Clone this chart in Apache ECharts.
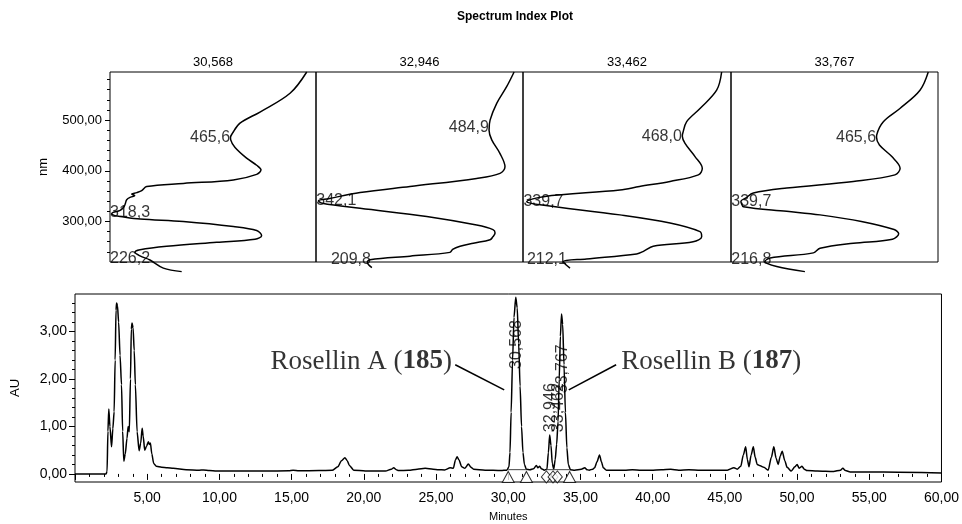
<!DOCTYPE html>
<html><head><meta charset="utf-8">
<script src="https://cdn.jsdelivr.net/npm/echarts@6/dist/echarts.min.js"></script>
<style>html,body{margin:0;padding:0;background:#fff}#c{width:962px;height:524px}</style>
</head><body><div id="c"></div>
<script>
// ---------- DATA ----------
const panelTitles = ['30,568', '32,946', '33,462', '33,767'];
// spectra: [wavelength nm, relative absorbance position (0..1 across panel)]
const spectrum1 = [[595,0.955],[553,0.874],[516,0.728],[494,0.631],[474,0.594],[466,0.585],[461,0.586],[446,0.607],[425,0.663],[411,0.712],[402,0.733],[393,0.712],[382,0.599],[375,0.356],[369,0.178],[361,0.154],[357,0.13],[354,0.105],[351,0.12],[348,0.10],[343,0.081],[336,0.075],[329,0.068],[322,0.049],[318,0.015],[315,0.008],[312,0.02],[310,0.049],[305,0.146],[300,0.356],[290,0.599],[282,0.712],[272,0.736],[265,0.704],[259,0.518],[251,0.275],[244,0.146],[239,0.121],[232,0.146],[224,0.194],[208,0.259],[201,0.348]];
const spectrum2 = [[595,0.957],[566,0.921],[533,0.873],[500,0.841],[480,0.836],[461,0.849],[434,0.889],[408,0.913],[395,0.889],[385,0.776],[369,0.454],[357,0.213],[345,0.06],[341,0.012],[336,0.03],[326,0.213],[310,0.535],[293,0.776],[284,0.855],[277,0.865],[270,0.855],[264,0.841],[257,0.76],[251,0.696],[245,0.66],[239,0.647],[231.5,0.454],[224.4,0.261],[220,0.248],[215,0.253],[209,0.27]];
const spectrum3 = [[595,0.955],[559,0.931],[523,0.851],[497,0.787],[474,0.768],[468,0.766],[454,0.779],[428,0.827],[405,0.862],[392,0.843],[379,0.707],[369,0.56],[362,0.466],[349,0.098],[339,0.018],[333,0.082],[313,0.466],[297,0.707],[280,0.851],[270,0.859],[260,0.818],[251,0.626],[241,0.579],[236,0.546],[226,0.305],[221,0.194],[215,0.205],[208,0.226]];
const spectrum4 = [[595,0.953],[559,0.913],[523,0.816],[497,0.736],[471,0.704],[466,0.703],[451,0.717],[428,0.777],[405,0.817],[392,0.792],[379,0.591],[366,0.269],[356,0.108],[346,0.07],[340,0.048],[336,0.05],[329,0.06],[320,0.269],[313,0.43],[300,0.63],[284,0.788],[276,0.81],[265,0.78],[257,0.591],[247,0.43],[238,0.398],[228,0.189],[221,0.164],[211,0.221],[201,0.357]];
const spectra = [spectrum1, spectrum2, spectrum3, spectrum4];
const lambdaMax1 = [465.6, 318.3, 226.2];
const lambdaMax2 = [484.9, 342.1, 209.8];
const lambdaMax3 = [468.0, 339.7, 212.1];
const lambdaMax4 = [465.6, 339.7, 216.8];
const lambdaMaxes = [lambdaMax1, lambdaMax2, lambdaMax3, lambdaMax4];

const chromTime = [0,2.15,2.22,2.28,2.34,2.42,2.53,2.62,2.71,2.78,2.84,2.88,2.94,3.02,3.12,3.22,3.3,3.38,3.48,3.6,3.68,3.76,3.84,3.9,3.95,4.02,4.1,4.18,4.3,4.44,4.55,4.65,4.72,4.83,4.95,5.08,5.15,5.22,5.32,5.45,5.63,6.0,6.4,6.8,7.7,8.6,8.9,9.3,9.8,13.2,14.8,15.1,15.5,16.9,17.8,18.2,18.45,18.69,18.85,19.0,19.3,20.1,21.5,21.9,22.07,22.25,22.4,23.1,23.7,24.25,24.8,25.17,25.6,25.98,26.2,26.35,26.46,26.58,26.78,27.0,27.24,27.42,27.6,28.4,29.5,29.9,30.05,30.12,30.2,30.3,30.4,30.52,30.62,30.72,30.82,30.92,31.02,31.12,31.25,31.5,31.75,31.95,32.05,32.18,32.3,32.5,32.68,32.78,32.87,32.96,33.05,33.15,33.25,33.35,33.45,33.53,33.61,33.69,33.77,33.86,33.96,34.06,34.16,34.3,34.6,35.06,35.3,35.45,35.6,35.85,35.98,36.15,36.32,36.45,36.58,36.8,38.05,38.6,39.2,39.9,40.6,41.25,41.8,42.5,43.3,45.17,45.63,45.85,46.1,46.28,46.44,46.56,46.67,46.82,46.97,47.1,47.24,47.45,47.7,48.0,48.22,48.39,48.55,48.69,48.84,48.97,49.15,49.31,49.6,49.85,50.0,50.15,50.34,50.5,50.69,51.4,52.53,53.0,53.17,53.35,53.68,55.98,60];
const chromAU = [0,0,0.05,0.9,1.37,1.0,0.57,0.95,1.31,2.4,3.45,3.60,3.55,3.2,2.5,1.88,0.9,0.27,0.42,0.75,1.0,0.89,2.0,3.05,3.18,3.08,2.6,1.88,0.89,0.49,0.65,0.96,0.8,0.5,0.58,0.68,0.62,0.65,0.42,0.22,0.16,0.14,0.13,0.12,0.09,0.08,0.085,0.07,0.06,0.06,0.065,0.08,0.065,0.07,0.075,0.15,0.28,0.34,0.28,0.18,0.08,0.06,0.06,0.1,0.13,0.09,0.07,0.075,0.1,0.12,0.1,0.09,0.085,0.13,0.12,0.3,0.36,0.3,0.15,0.12,0.21,0.14,0.1,0.08,0.07,0.08,0.15,0.45,1.3,2.4,3.3,3.72,3.5,2.75,1.85,1.0,0.45,0.2,0.1,0.09,0.11,0.18,0.13,0.16,0.11,0.08,0.1,0.45,0.82,0.6,0.22,0.1,0.3,0.62,1.1,2.0,2.9,3.37,3.15,2.3,1.3,0.55,0.2,0.09,0.08,0.1,0.13,0.09,0.08,0.1,0.13,0.26,0.4,0.26,0.13,0.08,0.08,0.09,0.08,0.08,0.09,0.1,0.08,0.09,0.08,0.08,0.13,0.1,0.16,0.4,0.57,0.3,0.15,0.4,0.57,0.35,0.2,0.17,0.14,0.08,0.35,0.57,0.33,0.2,0.38,0.48,0.28,0.14,0.06,0.15,0.2,0.12,0.16,0.1,0.07,0.06,0.05,0.08,0.12,0.07,0.04,0.04,0.02];

const peakRT = [30.568, 32.946, 33.462, 33.767];
const peakLabelAU = [2.21, 0.88, 0.88, 1.70];
const triangleT = [30.0, 31.26, 34.25];
const diamondT = [32.64, 33.1, 33.4];
const baseFromT = [30.0, 32.64];
const baseToT = [31.26, 34.25];
const baseAU = [0.09, 0.09];

const annotName = ['Rosellin A', 'Rosellin B'];
const annotNum = ['185', '187'];
const annotT = [26.14, 37.79];
const annotAU = [2.37, 2.37];
const leaderFrom = [[26.33, 2.30], [37.47, 2.30]];
const leaderTo = [[29.72, 1.77], [34.19, 1.77]];

const nmMajorTicks = [300, 400, 500];
const auMajorTicks = [0, 1, 2, 3];

// ---------- BUILD ----------
const FONT = 'Liberation Sans';
const fmt = (v, d) => Number(v).toFixed(d).replace('.', ',');
function range(a, b, s) { const r = []; for (let v = a; v <= b + 1e-9; v += s) r.push(+v.toFixed(3)); return r; }
function fAt(spec, nm) {
  for (let i = 0; i < spec.length - 1; i++) {
    const a = spec[i], b = spec[i + 1];
    if (nm <= a[0] && nm >= b[0]) { const t = (a[0] - nm) / (a[0] - b[0]); return a[1] + t * (b[1] - a[1]); }
  }
  return 0;
}

const panelLeft = [110, 316, 523, 731];
const panelWidth = [206, 207, 208, 207];
const grids = panelLeft.map((l, i) => ({ left: l, width: panelWidth[i], top: 72, height: 190, show: true, borderColor: '#000', borderWidth: 1 }));
grids.push({ left: 75, right: 17, top: 294, height: 188, show: true, borderColor: '#000', borderWidth: 1 });

const xAxes = [], yAxes = [], series = [];
const NM_MIN = 220, NM_MAX = 595, LABEL_NM_FLOOR = 224.5;
for (let i = 0; i < 4; i++) {
  xAxes.push({ gridIndex: i, type: 'value', min: 0, max: 1, position: 'top', axisLine: { show: false }, axisTick: { show: false }, axisLabel: { show: false }, splitLine: { show: false },
    name: panelTitles[i], nameLocation: 'middle', nameGap: 3, nameTextStyle: { fontFamily: FONT, fontSize: 13, color: '#000' } });
}
// panel 0 major y axis (labels)
yAxes.push({ gridIndex: 0, type: 'value', position: 'left', min: NM_MIN, max: NM_MAX, axisLine: { show: false }, splitLine: { show: false },
  axisTick: { show: true, length: 5, customValues: nmMajorTicks, lineStyle: { color: '#000' } },
  axisLabel: { customValues: nmMajorTicks, formatter: v => fmt(v, 2), fontFamily: FONT, fontSize: 13, color: '#000', margin: 8 },
  name: 'nm', nameLocation: 'middle', nameGap: 60, nameTextStyle: { fontFamily: FONT, fontSize: 13, color: '#000' } });
// panel 0 minor y axis
yAxes.push({ gridIndex: 0, type: 'value', position: 'left', offset: 0, min: NM_MIN, max: NM_MAX, axisLine: { show: false }, splitLine: { show: false }, axisLabel: { show: false },
  axisTick: { show: true, length: 3, customValues: range(240, 580, 20), lineStyle: { color: '#000' } } });
for (let i = 1; i < 4; i++) {
  yAxes.push({ gridIndex: i, type: 'value', min: NM_MIN, max: NM_MAX, axisLine: { show: false }, axisTick: { show: false }, axisLabel: { show: false }, splitLine: { show: false } });
}
const panelY = [0, 2, 3, 4];

spectra.forEach((spec, i) => {
  series.push({ type: 'line', xAxisIndex: i, yAxisIndex: panelY[i], data: spec.map(p => [p[1], p[0]]), showSymbol: false, smooth: 0.35, clip: false,
    lineStyle: { color: '#000', width: 1.5 }, silent: true });
  series.push({ type: 'scatter', xAxisIndex: i, yAxisIndex: panelY[i], symbol: 'circle', symbolSize: 1, itemStyle: { color: 'rgba(0,0,0,0)' }, silent: true, clip: false,
    data: lambdaMaxes[i].map(nm => ({ value: [Math.max(fAt(spec, nm), 0.197), Math.max(nm, LABEL_NM_FLOOR)], txt: fmt(nm, 1) })),
    label: { show: true, position: 'left', distance: 0, formatter: p => p.data.txt, fontFamily: FONT, fontSize: 16, color: '#000' } });
});

// bottom chromatogram axes
xAxes.push({ gridIndex: 4, type: 'value', min: 0, max: 60, interval: 5, position: 'bottom', axisLine: { show: false }, splitLine: { show: false },
  axisTick: { show: true, length: 6, lineStyle: { color: '#000' } },
  minorTick: { show: true, splitNumber: 5, length: 3, lineStyle: { color: '#000' } },
  axisLabel: { formatter: v => (v === 0 ? '' : fmt(v, 2)), fontFamily: FONT, fontSize: 14, color: '#000', margin: 9, showMinLabel: true, showMaxLabel: true },
  name: 'Minutes', nameLocation: 'middle', nameGap: 29, nameTextStyle: { fontFamily: FONT, fontSize: 11, color: '#000' } });
yAxes.push({ gridIndex: 4, type: 'value', position: 'left', min: -0.17, max: 3.79, axisLine: { show: false }, splitLine: { show: false },
  axisTick: { show: true, length: 6, customValues: auMajorTicks, lineStyle: { color: '#000' } },
  axisLabel: { customValues: auMajorTicks, formatter: v => fmt(v, 2), fontFamily: FONT, fontSize: 14, color: '#000', margin: 8 },
  name: 'AU', nameLocation: 'middle', nameGap: 53, nameTextStyle: { fontFamily: FONT, fontSize: 13, color: '#000' } });
yAxes.push({ gridIndex: 4, type: 'value', position: 'left', offset: 0, min: -0.17, max: 3.79, axisLine: { show: false }, splitLine: { show: false }, axisLabel: { show: false },
  axisTick: { show: true, length: 3, customValues: range(0.2, 3.6, 0.2).filter(v => Math.abs(v - Math.round(v)) > 1e-6), lineStyle: { color: '#000' } } });
const BX = 4, BY = 5;

series.push({ type: 'line', xAxisIndex: BX, yAxisIndex: BY, data: chromTime.map((t, i) => [t, chromAU[i]]), showSymbol: false, smooth: 0.25, smoothMonotone: 'x',
  lineStyle: { color: '#000', width: 1.5 }, silent: true,
  markLine: { silent: true, symbol: 'none', animation: false, label: { show: false }, lineStyle: { color: '#000', width: 1.5, type: 'solid' },
    data: leaderFrom.map((f, i) => [{ coord: f }, { coord: leaderTo[i] }]) } });
baseFromT.forEach((t, i) => {
  series.push({ type: 'line', xAxisIndex: BX, yAxisIndex: BY, data: [[t, baseAU[i]], [baseToT[i], baseAU[i]]], showSymbol: false, lineStyle: { color: '#444', width: 1 }, silent: true });
});
series.push({ type: 'scatter', xAxisIndex: BX, yAxisIndex: BY, symbol: 'triangle', symbolSize: [12, 11], symbolOffset: [0, 3], silent: true,
  itemStyle: { color: '#fff', borderColor: '#000', borderWidth: 1 }, data: triangleT.map(t => [t, 0]), z: 5 });
series.push({ type: 'scatter', xAxisIndex: BX, yAxisIndex: BY, symbol: 'diamond', symbolSize: [10, 12], symbolOffset: [0, 3], silent: true,
  itemStyle: { color: '#fff', borderColor: '#000', borderWidth: 1 }, data: diamondT.map(t => [t, 0]), z: 5 });
series.push({ type: 'scatter', xAxisIndex: BX, yAxisIndex: BY, symbol: 'circle', symbolSize: 1, itemStyle: { color: 'rgba(0,0,0,0)' }, silent: true, z: 6,
  data: peakRT.map((t, i) => ({ value: [t, peakLabelAU[i]], txt: fmt(t, 3) })),
  label: { show: true, position: 'inside', rotate: 90, align: 'left', verticalAlign: 'middle', formatter: p => p.data.txt, fontFamily: FONT, fontSize: 16, color: '#000' } });
series.push({ type: 'scatter', xAxisIndex: BX, yAxisIndex: BY, symbol: 'circle', symbolSize: 1, itemStyle: { color: 'rgba(0,0,0,0)' }, silent: true, z: 6,
  data: annotT.map((t, i) => ({ value: [t, annotAU[i]], txt: '{n|' + annotName[i] + ' (}{b|' + annotNum[i] + '}{n|)}', label: { position: i === 0 ? 'left' : 'right' } })),
  label: { show: true, distance: 0, formatter: p => p.data.txt, position: 'left',
    rich: { n: { fontFamily: 'Liberation Serif', fontSize: 27, color: '#000' }, b: { fontFamily: 'Liberation Serif', fontSize: 27, fontWeight: 'bold', color: '#000' } } } });

const chart = echarts.init(document.getElementById('c'));
chart.setOption({
  backgroundColor: '#fff', animation: false,
  title: { text: 'Spectrum Index Plot', left: 452, top: 6, textStyle: { fontFamily: FONT, fontSize: 12, fontWeight: 'bold', color: '#000' } },
  grid: grids, xAxis: xAxes, yAxis: yAxes, series: series
});
</script></body></html>
